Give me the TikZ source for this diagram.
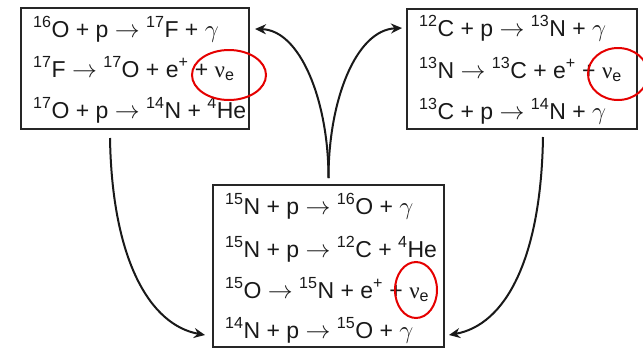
\documentclass[tikz,border=0pt]{standalone}
\usepackage{fontspec}
\setmainfont{Liberation Sans}
\newfontfamily\grk{Liberation Serif}
\usetikzlibrary{calc,arrows.meta}
\newcommand{\iso}[2]{\textsuperscript{#1}#2}
\newcommand{\ra}{$\rightarrow$}
\newcommand{\nue}{{\grk ν}\textsubscript{e}}
\begin{document}
\begin{tikzpicture}[x=1pt,y=-1pt,
  box/.style={draw=black!85,line width=2.4pt,minimum width=#1,outer sep=0pt,inner sep=0pt},
  box/.default=230pt,
  eq/.style={anchor=base west,inner sep=0pt,font=\fontsize{23}{28}\selectfont,text=black!90},
  flow/.style={line width=2pt,draw=black!90,-{Stealth[length=11pt,width=10pt]}},
  redring/.style={draw=red!90!black,line width=2pt}]
\useasboundingbox (0,0) rectangle (643,349);
% boxes
\node[box=228pt,minimum height=121pt] (b1) at (135,68.5) {};
\node[box=230pt,minimum height=120pt] (b2) at (522,69) {};
\node[box=231pt,minimum height=162pt] (b3) at (328.5,266) {};
% box 1 text
\node[eq] (t11) at (33,37) {\iso{16}{O} + p \ra\ \iso{17}{F} + $\gamma$};
\node[eq] (t12) at (33,77) {\iso{17}{F} \ra\ \iso{17}{O} + e\textsuperscript{+} + \nue};
\node[eq] (t13) at (33,118) {\iso{17}{O} + p \ra\ \iso{14}{N} + \iso{4}{He}};
% box 2 text
\node[eq] (t21) at (419,36) {\iso{12}{C} + p \ra\ \iso{13}{N} + $\gamma$};
\node[eq] (t22) at (419,78) {\iso{13}{N} \ra\ \iso{13}{C} + e\textsuperscript{+} + \nue};
\node[eq] (t23) at (419,119) {\iso{13}{C} + p \ra\ \iso{14}{N} + $\gamma$};
% box 3 text
\node[eq] (t31) at (225,214) {\iso{15}{N} + p \ra\ \iso{16}{O} + $\gamma$};
\node[eq] (t32) at (225,257) {\iso{15}{N} + p \ra\ \iso{12}{C} + \iso{4}{He}};
\node[eq] (t33) at (225,298) {\iso{15}{O} \ra\ \iso{15}{N} + e\textsuperscript{+} + \nue};
\node[eq] (t34) at (225,338) {\iso{14}{N} + p \ra\ \iso{15}{O} + $\gamma$};
% connector end points
\coordinate (l1) at ($(b1.south west)+(89,9)$);
\coordinate (l2) at ($(b3.west)+(-8,69)$);
\coordinate (r1) at ($(b2.south west)+(136,8)$);
\coordinate (r2) at ($(b3.east)+(5,69)$);
\coordinate (c0) at ($(b3.north)+(0,-7)$);
\coordinate (cl) at ($(b1.east)+(6,-39.5)$);
\coordinate (cr) at ($(b2.west)+(-5,-41)$);
% connectors
\draw[flow] (l1) .. controls +(2,122) and +(-55,-10) .. (l2);
\draw[flow] (r1) .. controls +(-2,123) and +(56,-10) .. (r2);
\draw[flow] (c0) .. controls +(0,-78) and +(45,1) .. (cl);
\draw[flow] (c0) .. controls +(0,-78) and +(-46,2) .. (cr);
% red ellipses
\draw[redring] (229,75) ellipse [x radius=37, y radius=25];
\draw[redring] (618,74) ellipse [x radius=30, y radius=26];
\draw[redring] (416,290) ellipse [x radius=21, y radius=28];
\end{tikzpicture}
\end{document}
